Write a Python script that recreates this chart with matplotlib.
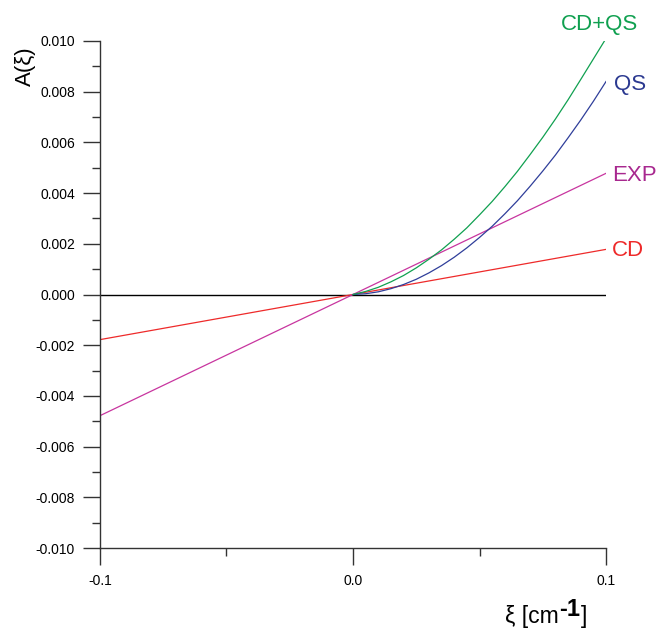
import matplotlib
matplotlib.use("Agg")
import matplotlib.pyplot as plt
from matplotlib.ticker import MultipleLocator, FormatStrFormatter

plt.rcParams['font.family'] = ['Liberation Sans', 'DejaVu Sans']
plt.rcParams['axes.unicode_minus'] = False

# straight lines, read at the two ends
cd_x = [-0.1, 0.1]
cd_y = [-0.00178, 0.00178]
exp_x = [-0.1, 0.1]
exp_y = [-0.00478, 0.00478]

# curves (only drawn for xi >= 0)
qs_x = [0.0, 0.005, 0.01, 0.015, 0.02, 0.025, 0.03, 0.035, 0.04, 0.045, 0.05,
        0.055, 0.06, 0.065, 0.07, 0.075, 0.08, 0.085, 0.09, 0.095, 0.1]
qs_y = [0.0, 0.00003, 0.000106, 0.00023, 0.000395, 0.0006, 0.000852, 0.00114,
        0.00147, 0.00184, 0.00225, 0.00269, 0.00318, 0.0037, 0.00427, 0.00487,
        0.0055, 0.00618, 0.00688, 0.00762, 0.0084]
cdqs_y = [0.0, 0.00012, 0.000284, 0.0005, 0.00075, 0.00105, 0.00139, 0.00176,
          0.00218, 0.00263, 0.00314, 0.00367, 0.00425, 0.00486, 0.00552,
          0.0062, 0.00692, 0.00768, 0.00848, 0.00929, 0.0101]

c_cd = '#ee2a2a'
c_exp = '#c8359f'
c_qs = '#2f3e9a'
c_cdqs = '#10a050'

fig = plt.figure(figsize=(6.58, 6.31), dpi=100)
ax = fig.add_axes([100/658, 1-548/631, 506/658, 507/631])

ax.axhline(0, color='black', lw=1.0, zorder=1)
ax.plot(cd_x, cd_y, color=c_cd, lw=0.9)
ax.plot(exp_x, exp_y, color=c_exp, lw=0.9)
ax.plot(qs_x, qs_y, color=c_qs, lw=0.9)
ax.plot(qs_x, cdqs_y, color=c_cdqs, lw=0.9)

ax.set_xlim(-0.1, 0.1)
ax.set_ylim(-0.01, 0.01)
for s in ['top', 'right']:
    ax.spines[s].set_visible(False)
for s in ['left', 'bottom']:
    ax.spines[s].set_color('#333333')
    ax.spines[s].set_linewidth(1.0)

ax.xaxis.set_major_locator(MultipleLocator(0.1))
ax.xaxis.set_minor_locator(MultipleLocator(0.05))
ax.yaxis.set_major_locator(MultipleLocator(0.002))
ax.yaxis.set_minor_locator(MultipleLocator(0.001))
ax.xaxis.set_major_formatter(FormatStrFormatter('%.1f'))
ax.yaxis.set_major_formatter(FormatStrFormatter('%.3f'))
ax.tick_params(which='major', length=12, width=1.0, color='#333333',
               labelsize=10, pad=6)
ax.tick_params(which='minor', length=6, width=1.0, color='#333333')
ax.tick_params(axis='x', which='major', pad=7)

kw = dict(fontsize=16, va='center', clip_on=False)
ax.text(0.0976, 0.01067, 'CD+QS', color=c_cdqs, ha='center', **kw)
ax.text(0.1030, 0.0083, 'QS', color='#2b3990', ha='left', **kw)
ax.text(0.1024, 0.0047, 'EXP', color='#a8288f', ha='left', **kw)
ax.text(0.1022, 0.00174, 'CD', color=c_cd, ha='left', **kw)

fig.text(25/658, 1-66/631, 'A(ξ)', rotation=90, ha='center', va='center',
         fontsize=16)

t1 = fig.text(505/658, 1-628/631, 'ξ [cm', ha='left', va='bottom', fontsize=16.5)
t2 = ax.annotate('-1', xy=(1, 0), xycoords=t1, xytext=(0.5, 5),
                 textcoords='offset points', ha='left', va='bottom',
                 fontsize=17, fontweight='bold')
ax.annotate(']', xy=(1, 0), xycoords=t2, xytext=(0.5, -5),
            textcoords='offset points', ha='left', va='bottom', fontsize=16.5)

fig.savefig('out.png', dpi=100)
